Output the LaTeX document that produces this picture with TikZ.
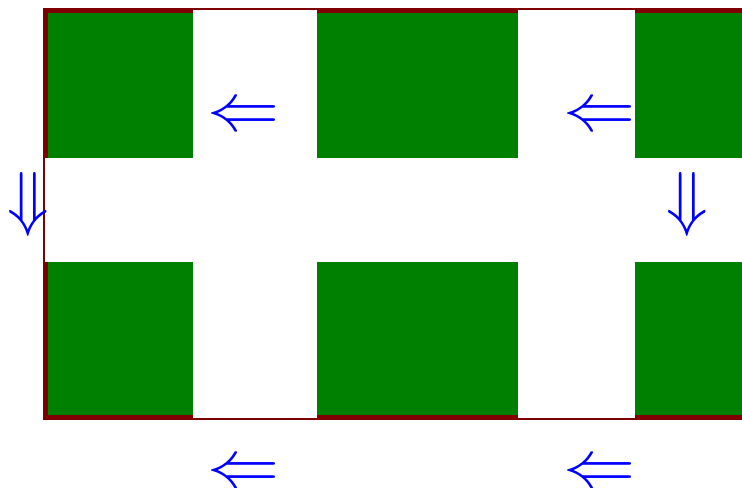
\RequirePackage{fix-cm}
\documentclass[tikz,border=0pt]{standalone}
\usetikzlibrary{positioning}

\definecolor{tilegreen}{HTML}{008000}
\definecolor{edgered}{HTML}{800000}
\definecolor{flowblue}{HTML}{0000FF}

\tikzset{
  tile/.style={fill=tilegreen, draw=none},
  flow/.style={text=flowblue, inner sep=0pt, font=\fontsize{51}{51}\selectfont}
}
\newcommand{\westflow}{\scalebox{1.06}[1]{$\Leftarrow$}}
\newcommand{\southflow}{\scalebox{1}[1.06]{$\Downarrow$}}

\begin{document}
\begin{tikzpicture}[x=0.75pt, y=-0.75pt]
    % Fix the page to the size of the reference
    \useasboundingbox (0,0) rectangle (742,488);
    \clip (0,0) rectangle (742,488);

    % Outer frame: thin dark red edge round a white field
    \fill[edgered] (43,8) rectangle (760,420);
    \fill[white] (45,10) rectangle (760,418);

    % Green blocks, top row
    \fill[tile] (43,8) rectangle (193,158);
    \fill[tile] (317,8) rectangle (518,158);
    \fill[tile] (635,8) rectangle (760,158);
    % Green blocks, bottom row
    \fill[tile] (43,262) rectangle (193,420);
    \fill[tile] (317,262) rectangle (518,420);
    \fill[tile] (635,262) rectangle (760,420);

    % Thick dark red edge along the blocks
    \draw[edgered, line width=3.5pt] (45.5,158) -- (45.5,10.5) -- (193,10.5);
    \draw[edgered, line width=3.5pt] (317,10.5) -- (518,10.5);
    \draw[edgered, line width=3.5pt] (635,10.5) -- (760,10.5);
    \draw[edgered, line width=3.5pt] (45.5,262) -- (45.5,417.5) -- (193,417.5);
    \draw[edgered, line width=3.5pt] (317,417.5) -- (518,417.5);
    \draw[edgered, line width=3.5pt] (635,417.5) -- (760,417.5);

    % Flow arrows
    \node[flow] (topleft) at (244,118) {\westflow};
    \node[flow] (topright) at (600,118) {\westflow};
    \node[flow] (botleft) at (244,475) {\westflow};
    \node[flow] (botright) at (600,475) {\westflow};
    \node[flow] (downleft) at (28,204) {\southflow};
    \node[flow] (downright) at (687,204) {\southflow};
\end{tikzpicture}
\end{document}
